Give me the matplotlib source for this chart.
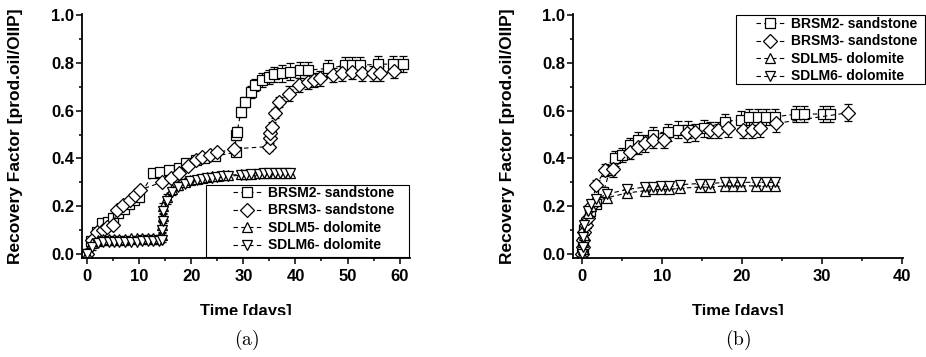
import matplotlib
matplotlib.use("Agg")
import matplotlib.pyplot as plt
from matplotlib.patches import Rectangle
from matplotlib.ticker import MultipleLocator, FormatStrFormatter
from matplotlib.transforms import Bbox, TransformedBbox

plt.rcParams['font.family'] = ['Liberation Sans', 'DejaVu Sans']
plt.rcParams['font.weight'] = 'bold'
plt.rcParams['mathtext.fontset'] = 'cm'

W, H = 926, 357

labels = ['BRSM2- sandstone', 'BRSM3- sandstone', 'SDLM5- dolomite', 'SDLM6- dolomite']

# ---- panel (a)
a_brsm2_t = [0, 0.8, 1.8, 2.8, 4.0, 5.0, 6.0, 7.0, 8.0, 9.0, 10.0, 12.7, 14.0, 15.8, 17.7, 19.0,
             20.9, 22.5, 24.5, 28.5, 28.5, 28.8, 29.5, 30.4, 31.4, 32.3, 33.6, 34.9, 35.8, 37.4,
             39.0, 40.9, 42.5, 46.3, 49.5, 50.8, 52.4, 55.9, 58.7, 60.6]
a_brsm2_y = [0.0, 0.056, 0.09, 0.13, 0.135, 0.15, 0.17, 0.19, 0.21, 0.225, 0.24, 0.337, 0.344, 0.35,
             0.36, 0.38, 0.393, 0.40, 0.41, 0.425, 0.498, 0.51, 0.595, 0.637, 0.68, 0.707, 0.728,
             0.742, 0.752, 0.756, 0.763, 0.77, 0.77, 0.777, 0.79, 0.79, 0.79, 0.795, 0.795, 0.795]
a_brsm2_e = [0.005, 0.01, 0.01, 0.01, 0.01, 0.01, 0.01, 0.01, 0.01, 0.01, 0.01, 0.01, 0.01, 0.01,
             0.01, 0.01, 0.01, 0.01, 0.01, 0.01, 0.02, 0.02, 0.02, 0.02, 0.025, 0.025, 0.03, 0.03,
             0.03, 0.035, 0.035, 0.035, 0.035, 0.035, 0.035, 0.035, 0.035, 0.035, 0.035, 0.035]

a_brsm3_t = [0, 0.9, 1.9, 3.0, 3.8, 5.0, 5.7, 6.9, 8.2, 9.2, 10.1, 14.3, 16.0, 17.7, 19.3, 20.9,
             22.1, 23.5, 25.0, 28.2, 34.9, 35.2, 35.2, 35.4, 36.1, 36.8, 38.7, 40.6, 42.5, 43.5,
             44.7, 47.3, 48.9, 50.8, 52.7, 54.9, 56.2, 59.0]
a_brsm3_y = [0.0, 0.06, 0.09, 0.10, 0.114, 0.12, 0.184, 0.205, 0.226, 0.247, 0.268, 0.30, 0.32,
             0.34, 0.37, 0.395, 0.405, 0.415, 0.425, 0.44, 0.45, 0.484, 0.505, 0.533, 0.589, 0.637,
             0.672, 0.707, 0.72, 0.728, 0.735, 0.749, 0.756, 0.763, 0.756, 0.756, 0.756, 0.767]
a_brsm3_e = [0.005, 0.01, 0.01, 0.01, 0.01, 0.01, 0.01, 0.01, 0.01, 0.01, 0.01, 0.01, 0.01, 0.01,
             0.01, 0.01, 0.01, 0.01, 0.01, 0.01, 0.02, 0.02, 0.02, 0.02, 0.02, 0.02, 0.03, 0.03,
             0.03, 0.03, 0.03, 0.03, 0.03, 0.03, 0.03, 0.03, 0.03, 0.03]

a_sdlm_t = [0, 0.9, 2.0, 3.0, 4.1, 5.2, 6.2, 7.3, 8.4, 9.5, 10.5, 11.6, 12.7, 13.7, 14.3, 14.4,
            14.5, 14.6, 15.3, 16.3, 17.5, 18.7, 19.8, 21.0, 22.0, 23.0, 24.0, 25.0, 26.0, 27.0,
            29.5, 30.5, 31.5, 33.0, 34.0, 35.0, 36.0, 37.0, 38.0, 39.0]
a_sdlm5_y = [0.0, 0.045, 0.06, 0.062, 0.062, 0.063, 0.063, 0.064, 0.065, 0.065, 0.066, 0.066,
             0.067, 0.068, 0.08, 0.12, 0.16, 0.2, 0.24, 0.27, 0.29, 0.30, 0.31, 0.315, 0.32, 0.322,
             0.325, 0.327, 0.33, 0.33, 0.333, 0.335, 0.335, 0.338, 0.34, 0.34, 0.34, 0.34, 0.34, 0.338]
a_sdlm6_y = [0.0, 0.03, 0.045, 0.048, 0.05, 0.05, 0.05, 0.051, 0.052, 0.052, 0.053, 0.053, 0.054,
             0.055, 0.06, 0.1, 0.14, 0.18, 0.22, 0.26, 0.28, 0.295, 0.305, 0.31, 0.315, 0.318,
             0.32, 0.322, 0.325, 0.325, 0.33, 0.332, 0.333, 0.335, 0.337, 0.338, 0.34, 0.34, 0.34, 0.34]
a_sdlm_e = 0.012

# ---- panel (b)
b_brsm2_t = [0, 0.1, 0.2, 0.3, 0.5, 1.0, 1.8, 2.7, 3.5, 4.1, 5.0, 6.0, 7.0, 8.9, 10.8, 12.0, 13.2,
             15.2, 17.9, 19.9, 20.9, 22.0, 23.0, 24.1, 26.8, 27.8, 30.1, 31.0]
b_brsm2_y = [0.0, 0.02, 0.05, 0.1, 0.13, 0.18, 0.21, 0.26, 0.35, 0.40, 0.414, 0.456, 0.477, 0.498,
             0.51, 0.52, 0.52, 0.526, 0.553, 0.563, 0.574, 0.574, 0.574, 0.574, 0.586, 0.586,
             0.586, 0.586]
b_brsm2_e = [0.005, 0.01, 0.01, 0.01, 0.01, 0.015, 0.015, 0.02, 0.02, 0.03, 0.03, 0.03, 0.035,
             0.035, 0.035, 0.035, 0.035, 0.035, 0.035, 0.035, 0.035, 0.035, 0.035, 0.035, 0.035,
             0.035, 0.035, 0.035]

b_brsm3_t = [0, 0.1, 0.2, 0.3, 0.5, 0.8, 1.2, 1.8, 2.9, 3.9, 6.0, 7.0, 7.9, 8.9, 10.2, 13.1, 14.1,
             16.0, 17.0, 18.3, 20.1, 21.2, 22.2, 24.3, 33.2]
b_brsm3_y = [0.0, 0.03, 0.06, 0.09, 0.12, 0.15, 0.2, 0.29, 0.35, 0.354, 0.428, 0.45, 0.463, 0.477,
             0.477, 0.505, 0.51, 0.519, 0.519, 0.526, 0.52, 0.52, 0.526, 0.547, 0.591]
b_brsm3_e = [0.005, 0.01, 0.01, 0.01, 0.01, 0.015, 0.015, 0.02, 0.025, 0.03, 0.03, 0.03, 0.035,
             0.035, 0.035, 0.035, 0.035, 0.035, 0.035, 0.035, 0.035, 0.035, 0.035, 0.035, 0.035]

b_sdlm_t = [0, 0.1, 0.2, 0.3, 0.8, 1.2, 1.8, 3.1, 5.6, 7.9, 8.9, 9.9, 10.9, 12.2, 14.7, 16.0, 17.9,
            18.9, 19.9, 21.8, 23.0, 24.1]
b_sdlm5_y = [0.0, 0.02, 0.05, 0.08, 0.17, 0.2, 0.22, 0.235, 0.255, 0.265, 0.27, 0.27, 0.27, 0.275,
             0.28, 0.28, 0.285, 0.285, 0.285, 0.285, 0.285, 0.285]
b_sdlm6_y = [0.0, 0.03, 0.07, 0.12, 0.18, 0.21, 0.23, 0.25, 0.27, 0.28, 0.28, 0.285, 0.285, 0.29,
             0.295, 0.295, 0.30, 0.30, 0.30, 0.30, 0.30, 0.30]
b_sdlm_e = 0.015


def draw_series(ax, t, y, err, marker, ms):
    eb = ax.errorbar(t, y, yerr=err, fmt=marker, ls=(0, (4, 3)), lw=0.8, color='black',
                     mfc='white', mec='black', mew=0.9, ms=ms, ecolor='black', elinewidth=0.8,
                     capsize=3, capthick=0.8)
    return eb.lines[0]


def style_axes(ax, xlim, ylab_x):
    ax.set_xlim(*xlim)
    ax.set_ylim(-0.017, 1.005)
    ax.spines['top'].set_visible(False)
    ax.spines['right'].set_visible(False)
    ax.xaxis.set_major_locator(MultipleLocator(10))
    ax.xaxis.set_minor_locator(MultipleLocator(5))
    ax.yaxis.set_major_locator(MultipleLocator(0.2))
    ax.yaxis.set_minor_locator(MultipleLocator(0.1))
    ax.yaxis.set_major_formatter(FormatStrFormatter('%.1f'))
    ax.tick_params(which='major', direction='out', length=4, width=1.1, labelsize=12)
    ax.tick_params(axis='y', which='major', pad=1.5)
    ax.tick_params(axis='x', which='major', pad=4)
    ax.tick_params(which='minor', direction='out', length=2.5, width=1.1)
    for s in ax.spines.values():
        s.set_linewidth(1.3)
    for lab in ax.get_xticklabels() + ax.get_yticklabels():
        lab.set_fontweight('bold')
    ax.set_ylabel('Recovery Factor [prod.oil/OIIP]', fontsize=12.5, fontweight='bold')
    ax.set_xlabel('Time [days]', fontsize=12, fontweight='bold')
    ax.yaxis.set_label_coords(ylab_x, 0.5)
    ax.xaxis.set_label_coords(0.5, -0.19)


def legend_box(fig, handles, x0, y0, x1, y1, hx, hy):
    # frame drawn in pixel coordinates, legend entries placed inside it
    fig.add_artist(Rectangle((x0 / W, 1 - y1 / H), (x1 - x0) / W, (y1 - y0) / H,
                             transform=fig.transFigure, facecolor='white', edgecolor='black',
                             lw=0.8, zorder=4))
    leg = fig.legend(handles, labels, loc='upper left', bbox_to_anchor=(hx / W, 1 - hy / H),
                     bbox_transform=fig.transFigure, fontsize=10, frameon=False,
                     handlelength=2.0, labelspacing=0.25, borderpad=0, borderaxespad=0,
                     handletextpad=0.5, numpoints=1)
    leg.set_zorder(5)


fig = plt.figure(figsize=(W / 100, H / 100), dpi=100)
ax1 = fig.add_axes([82 / W, 1 - 258 / H, 328 / W, 244 / H])
ax2 = fig.add_axes([573 / W, 1 - 258 / H, 330 / W, 244 / H])

h1 = [draw_series(ax1, a_brsm2_t, a_brsm2_y, a_brsm2_e, 's', 6.5),
      draw_series(ax1, a_brsm3_t, a_brsm3_y, a_brsm3_e, 'D', 7),
      draw_series(ax1, a_sdlm_t, a_sdlm5_y, a_sdlm_e, '^', 7.5),
      draw_series(ax1, a_sdlm_t, a_sdlm6_y, a_sdlm_e, 'v', 7.5)]
style_axes(ax1, (-1.0, 62.0), -0.18)
legend_box(fig, h1, 206, 185, 409, 257, 233, 186)

h2 = [draw_series(ax2, b_brsm2_t, b_brsm2_y, b_brsm2_e, 's', 6.5),
      draw_series(ax2, b_brsm3_t, b_brsm3_y, b_brsm3_e, 'D', 7),
      draw_series(ax2, b_sdlm_t, b_sdlm5_y, b_sdlm_e, '^', 7.5),
      draw_series(ax2, b_sdlm_t, b_sdlm6_y, b_sdlm_e, 'v', 7.5)]
style_axes(ax2, (-1.1, 40.1), -0.176)
legend_box(fig, h2, 736, 15, 925, 84, 756, 17)

# the x labels are cut off at the bottom in the original figure
clip = TransformedBbox(Bbox([[0, 42 / H], [1, 1]]), fig.transFigure)
for ax in (ax1, ax2):
    ax.xaxis.label.set_clip_on(True)
    ax.xaxis.label.set_clip_box(clip)

fig.text(247 / W, 1 - 340 / H, r'$\mathrm{(a)}$', ha='center', va='center', fontsize=14)
fig.text(738 / W, 1 - 340 / H, r'$\mathrm{(b)}$', ha='center', va='center', fontsize=14)

fig.savefig('out.png', dpi=100)
